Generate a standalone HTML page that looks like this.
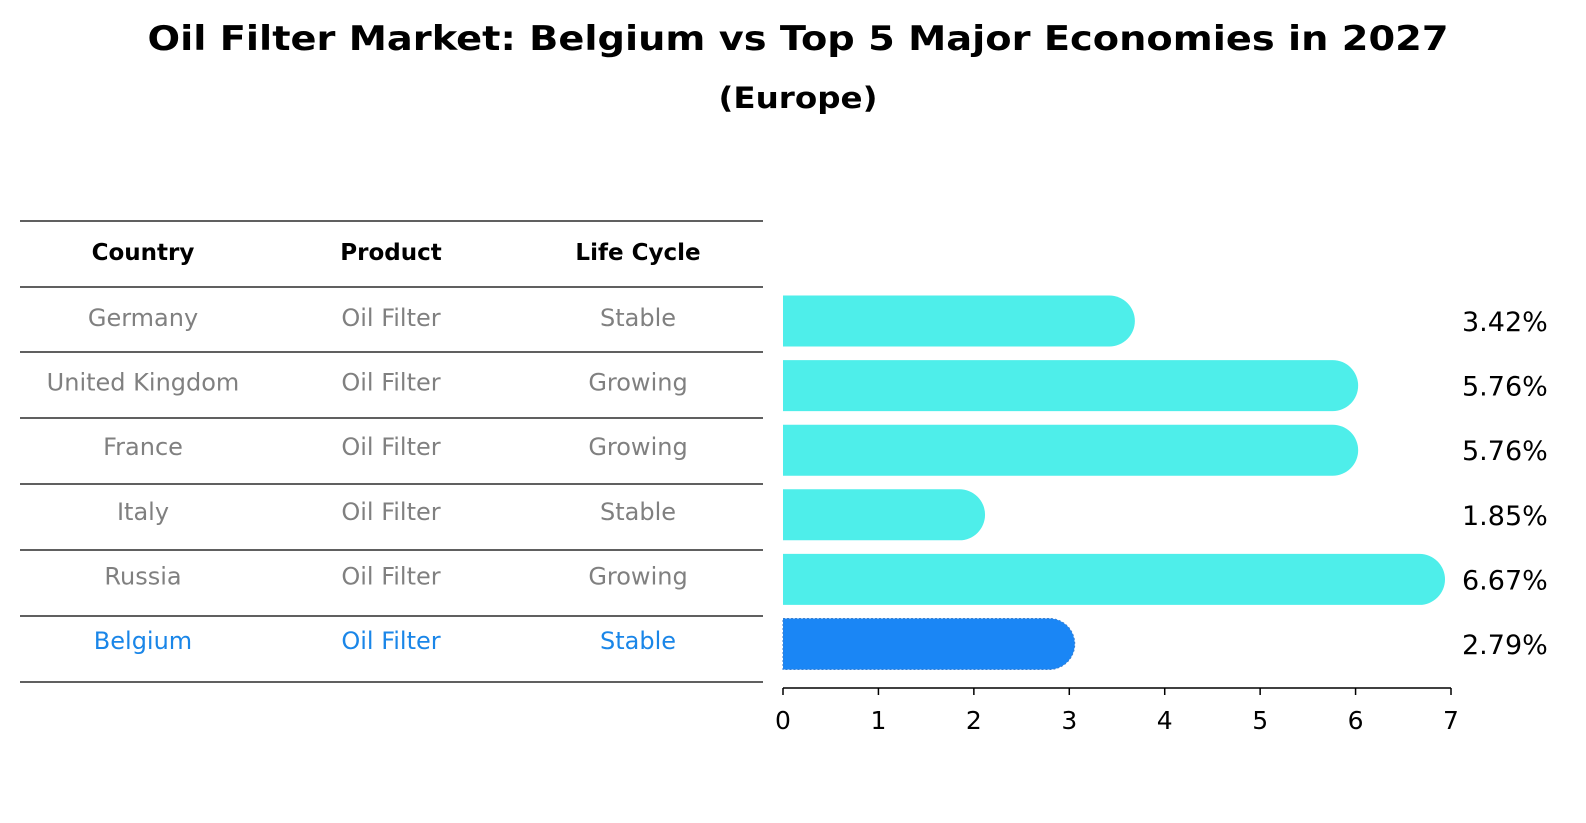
<!DOCTYPE html>
<html><head><meta charset="utf-8"><style>
body{margin:0;background:#fff;font-family:"Liberation Sans","DejaVu Sans",sans-serif;}
svg{display:block}
</style></head><body>
<svg id="c" width="1586" height="823" xmlns="http://www.w3.org/2000/svg" font-family="'DejaVu Sans', 'Liberation Sans', sans-serif">
<text x="798" y="50" text-anchor="middle" font-size="34" font-weight="bold" textLength="1301" lengthAdjust="spacingAndGlyphs">Oil Filter Market: Belgium vs Top 5 Major Economies in 2027</text>
<text x="798" y="108" text-anchor="middle" font-size="29" font-weight="bold" textLength="159" lengthAdjust="spacingAndGlyphs">(Europe)</text>
<g id="tbl"></g>
<g id="bars"></g>
<g id="axis"></g>
</svg>
<script>
const countries=["Germany","United Kingdom","France","Italy","Russia","Belgium"];
const products=["Oil Filter","Oil Filter","Oil Filter","Oil Filter","Oil Filter","Oil Filter"];
const lifecycle=["Stable","Growing","Growing","Stable","Growing","Stable"];
const values=[3.42,5.76,5.76,1.85,6.67,2.79];
const labels=["3.42%","5.76%","5.76%","1.85%","6.67%","2.79%"];
const ticks=[0,1,2,3,4,5,6,7];
const NS="http://www.w3.org/2000/svg";
function mk(t,a,p){const e=document.createElementNS(NS,t);for(const k in a)e.setAttribute(k,a[k]);p.appendChild(e);return e;}
const x=v=>783+v*(1451-783)/7;
const rowY=i=>321+i*64.6;
const tbl=document.getElementById('tbl'),bars=document.getElementById('bars'),axis=document.getElementById('axis');
const lines=[221,287,352,418,484,550,616,682];
lines.forEach(y=>{const l=mk('line',{x1:20,x2:763,y1:y,y2:y,stroke:'#000','stroke-width':1.2},tbl);

});
const cx=[143,391,638];
["Country","Product","Life Cycle"].forEach((h,j)=>{const t=mk('text',{x:cx[j],y:260,'text-anchor':'middle','font-size':23,'font-weight':'bold'},tbl);t.textContent=h;

});
countries.forEach((c,i)=>{const col=i===5?'#1a86e8':'#808080';
[c,products[i],lifecycle[i]].forEach((s,j)=>{const t=mk('text',{x:cx[j],y:rowY(i)+5,'text-anchor':'middle','font-size':24,fill:col},tbl);t.textContent=s;

});
const h=51,y0=rowY(i)-h/2,r=h/2,w=x(values[i])-x(0);
const fill=i===5?'#1a86f5':'#4eeeea';
const p=mk('path',{d:`M${x(0)},${y0} h${w} a${r},${r} 0 0 1 0,${h} h${-w} z`,fill:fill},bars);
if(i===5){p.setAttribute('stroke','#3a7fd0');p.setAttribute('stroke-dasharray','2,2');}


const t=mk('text',{x:1462,y:rowY(i)+10,'font-size':27},bars);t.textContent=labels[i];

});
const al=mk('line',{x1:x(0),x2:x(7),y1:688,y2:688,stroke:'#000','stroke-width':1.5},axis);


ticks.forEach(v=>{const l=mk('line',{x1:x(v),x2:x(v),y1:688,y2:695,stroke:'#000','stroke-width':1.5},axis);


const t=mk('text',{x:x(v),y:729,'text-anchor':'middle','font-size':25},axis);t.textContent=v;

});
</script>
</body></html>
